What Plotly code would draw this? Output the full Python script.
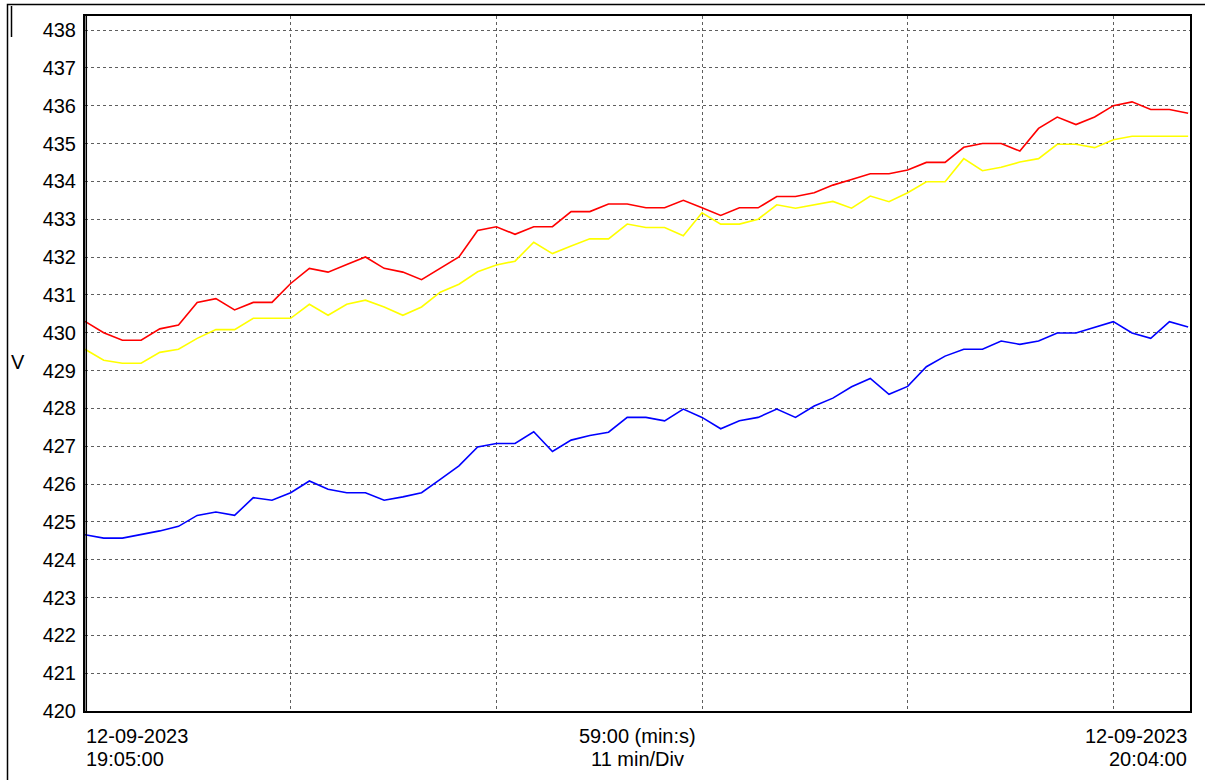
import pandas as pd
import plotly.graph_objects as go

# Phase voltages (V), one sample per minute from 19:05:00
phase_red = [430.3, 430.0, 429.8, 429.8, 430.1, 430.2, 430.8, 430.9, 430.6, 430.8,
             430.8, 431.3, 431.7, 431.6, 431.8, 432.0, 431.7, 431.6, 431.4, 431.7,
             432.0, 432.7, 432.8, 432.6, 432.8, 432.8, 433.2, 433.2, 433.4, 433.4,
             433.3, 433.3, 433.5, 433.3, 433.1, 433.3, 433.3, 433.6, 433.6, 433.7,
             433.9, 434.05, 434.2, 434.2, 434.3, 434.5, 434.5, 434.9, 435.0, 435.0,
             434.8, 435.4, 435.7, 435.5, 435.7, 436.0, 436.1, 435.9, 435.9, 435.8]
phase_yellow = [429.56, 429.27, 429.19, 429.19, 429.48, 429.56, 429.85, 430.08, 430.08, 430.38,
                430.38, 430.38, 430.75, 430.46, 430.75, 430.86, 430.68, 430.46, 430.68, 431.07,
                431.28, 431.61, 431.79, 431.89, 432.39, 432.09, 432.29, 432.48, 432.48, 432.87,
                432.78, 432.78, 432.56, 433.17, 432.87, 432.87, 433.0, 433.38, 433.29, 433.38,
                433.47, 433.29, 433.61, 433.46, 433.7, 433.99, 433.99, 434.6, 434.28, 434.37,
                434.51, 434.6, 434.98, 434.98, 434.89, 435.1, 435.19, 435.19, 435.19, 435.19]
phase_blue = [424.66, 424.57, 424.57, 424.66, 424.76, 424.88, 425.17, 425.26, 425.17, 425.64,
              425.57, 425.77, 426.08, 425.86, 425.77, 425.77, 425.57, 425.66, 425.77, 426.12,
              426.48, 426.98, 427.07, 427.07, 427.38, 426.86, 427.16, 427.28, 427.37, 427.76,
              427.76, 427.67, 427.98, 427.76, 427.46, 427.67, 427.76, 427.98, 427.76, 428.06,
              428.27, 428.57, 428.79, 428.37, 428.58, 429.1, 429.38, 429.56, 429.56, 429.78,
              429.69, 429.78, 429.99, 429.99, 430.15, 430.29, 429.99, 429.85, 430.29, 430.15]

start_time = "2023-09-12 19:05:00"
end_time = "2023-09-12 20:04:00"
label_left = ["12-09-2023", "19:05:00"]
label_mid = ["59:00 (min:s)", "11 min/Div"]
label_right = ["12-09-2023", "20:04:00"]
y_label = "V"

times = pd.date_range(start_time, periods=len(phase_red), freq="min")

W, H = 1205, 780
L, R, T, B = 85, 15, 16, 69
PW, PH = W - L - R, H - T - B


def px(xp):
    return (xp - L) / PW


def py(yp):
    return (H - B - yp) / PH


FONT = "Liberation Sans, Arial, sans-serif"
FSIZE = 20

fig = go.Figure()
for vals, col in [(phase_red, "#ff0000"), (phase_yellow, "#ffff00"), (phase_blue, "#0000ff")]:
    fig.add_trace(go.Scatter(x=times, y=vals, mode="lines",
                             line=dict(color=col, width=1.6), showlegend=False))

fig.update_xaxes(
    range=[pd.Timestamp(start_time), pd.Timestamp(end_time) + pd.Timedelta(seconds=6)],
    tick0=start_time, dtick=11 * 60 * 1000,
    showticklabels=False, ticks="",
    showgrid=True, gridcolor="#5e5e5e", gridwidth=1, griddash="dot",
    showline=True, linecolor="black", linewidth=2, mirror=True, zeroline=False,
)
fig.update_yaxes(
    range=[420, 438.37], tick0=420, dtick=1,
    showgrid=True, gridcolor="#5e5e5e", gridwidth=1, griddash="dot",
    showline=True, linecolor="black", linewidth=2, mirror=True, zeroline=False,
    tickfont=dict(family=FONT, size=FSIZE, color="black"),
    ticks="", ticklabelstandoff=3,
)

ann_font = dict(family=FONT, size=FSIZE, color="black")
# two-line bottom captions, one annotation per line for tight spacing
for xpos, anchor, lines, xs in [(0, "left", label_left, -1),
                                (0.5, "center", label_mid, 0),
                                (1, "right", label_right, -1)]:
    for k, txt in enumerate(lines):
        fig.add_annotation(x=xpos, y=py(736 + 23 * k), xref="paper", yref="paper",
                           text=txt, showarrow=False, xanchor=anchor,
                           yanchor="middle", xshift=xs, font=ann_font)
fig.add_annotation(x=px(18), y=py(362), xref="paper", yref="paper", text=y_label,
                   showarrow=False, xanchor="center", yanchor="middle", font=ann_font)

# outer panel frame and the heavier left plot border
fig.add_shape(type="rect", xref="paper", yref="paper",
              x0=px(7.5), x1=px(1215), y0=py(4.5), y1=py(800),
              line=dict(color="black", width=1.5), layer="above")
fig.add_shape(type="line", xref="paper", yref="paper",
              x0=px(11.5), x1=px(11.5), y0=py(6), y1=py(37),
              line=dict(color="black", width=1.5), layer="above")
fig.add_shape(type="line", xref="paper", yref="paper",
              x0=px(86.3), x1=px(86.3), y0=py(16), y1=py(711),
              line=dict(color="black", width=1.5), layer="above")

fig.update_layout(
    width=W, height=H,
    margin=dict(l=L, r=R, t=T, b=B),
    paper_bgcolor="white", plot_bgcolor="white",
    font=dict(family=FONT, color="black"),
)

fig.write_html("out.html")
